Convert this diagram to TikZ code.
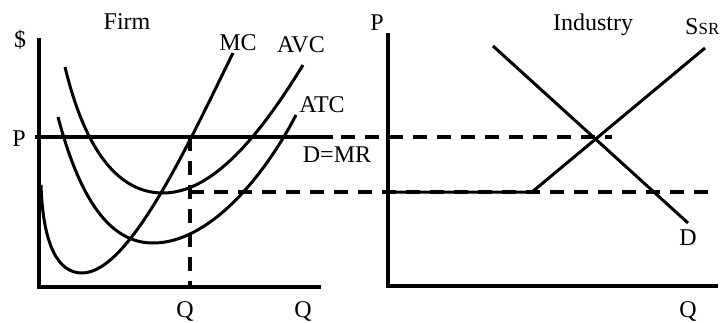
\documentclass[tikz,border=0pt]{standalone}
\usepackage{fontspec}
\setmainfont{Liberation Serif}
\begin{document}
\begin{tikzpicture}[x=1pt,y=-1pt,
  axis/.style={line width=4pt},
  curve/.style={line width=3pt},
  guide/.style={line width=3.6pt,dash pattern=on 14pt off 10pt},
  lbl/.style={inner sep=0pt,font=\fontsize{24}{28}\selectfont}]
\useasboundingbox (0,0) rectangle (723,322);
% firm axes
\coordinate (fy0) at (39,38);
\coordinate (fo) at (39,287);
\coordinate (fx1) at (321,287);
\draw[axis] (fy0) -- (fo) -- (fx1);
% industry axes
\coordinate (iy0) at (388,33);
\coordinate (io) at (388,286);
\coordinate (ix1) at (718,286);
\draw[axis] (iy0) -- (io) -- (ix1);
% price lines
\coordinate (pL) at (35,137);
\coordinate (pR) at (333,137);
\coordinate (pdL) at (53,137);
\coordinate (pdR) at (612,137);
\draw[line width=3.6pt] (pL) -- (pR);
\draw[guide] (pdL) -- (pdR);
\coordinate (qTop) at (190,137);
\coordinate (qBot) at (190,287);
\draw[guide] (qTop) -- (qBot);
\coordinate (lowL) at (190,192);
\coordinate (lowR) at (718,192);
\draw[guide] (lowL) -- (lowR);
% MC
\coordinate (mc0) at (41,185);
\coordinate (mcmin) at (82,273);
\coordinate (mc1) at (233,53);
\draw[curve] (mc0) .. controls (43,245) and (58,273) .. (mcmin)
  .. controls (130,273) and (190,140) .. (mc1);
% upper U (AVC)
\coordinate (u0) at (65,67);
\coordinate (umin) at (163,193);
\coordinate (u1) at (303,65);
\draw[curve] (u0) .. controls (85,150) and (118,193) .. (umin)
  .. controls (213,193) and (260,135) .. (u1);
% lower U (ATC)
\coordinate (l0) at (58,117);
\coordinate (lmin) at (153,243);
\coordinate (l1) at (296,115);
\draw[curve] (l0) .. controls (80,200) and (110,243) .. (lmin)
  .. controls (210,243) and (265,175) .. (l1);
% industry demand and supply
\coordinate (d0) at (493,46);
\coordinate (d1) at (688,223);
\draw[curve] (d0) -- (d1);
\coordinate (s0) at (388,192);
\coordinate (sk) at (532,192);
\coordinate (s1) at (705,48);
\draw[curve] (s0) -- (sk) -- (s1);
% labels
\node[lbl] (tdollar) at (20,40) {\$};
\node[lbl] (tfirm) at (127,22) {Firm};
\node[lbl] (tmc) at (238,43) {MC};
\node[lbl] (tavc) at (301,45) {AVC};
\node[lbl] (tatc) at (322,105) {ATC};
\node[lbl] (tp) at (19,139) {P};
\node[lbl] (tdmr) at (337,155) {D=MR};
\node[lbl] (tq1) at (185,311) {Q};
\node[lbl] (tq2) at (303,311) {Q};
\node[lbl] (tp2) at (377,23) {P};
\node[lbl] (tind) at (593,25) {Industry};
\node[lbl,anchor=base west] (tssr) at (685,34) {S{\fontsize{17}{20}\selectfont SR}};
\node[lbl] (td) at (688,238) {D};
\node[lbl] (tq3) at (688,311) {Q};
\end{tikzpicture}
\end{document}
